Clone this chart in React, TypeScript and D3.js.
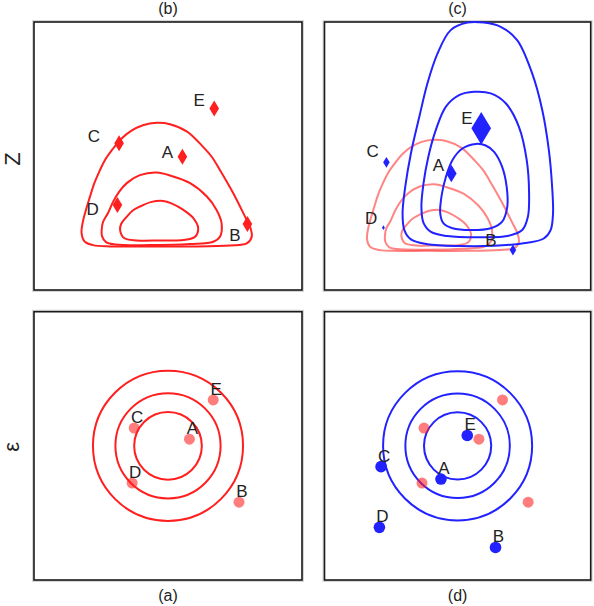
import React from 'react';
import * as d3 from 'd3';

// ---------- data ----------
const LETTERS = ['A', 'B', 'C', 'D', 'E'];

// base space (epsilon): contour radii and points
const EPS_RADII = [1.01, 1.57, 2.24];
const EPS_X = [0.64, 2.12, -1.01, -1.07, 1.35];
const EPS_Y = [0.2, -1.68, 0.53, -1.11, 1.37];
// moved base-space points shown in (d)
const EPS2_X = [-0.5, 1.14, -2.3, -2.35, 0.29];
const EPS2_Y = [-0.99, -3.03, -0.62, -2.43, 0.31];

// latent space (Z): red contours of (b)
const Z_INNER: [number, number][] = [
  [-0.15, -1.34], [0.12, -1.42], [0.46, -1.61], [0.75, -1.85], [0.9, -2.15], [0.81, -2.41],
  [0.46, -2.51], [-0.24, -2.52], [-0.93, -2.52], [-1.31, -2.45], [-1.43, -2.21], [-1.4, -2.03],
  [-1.23, -1.81], [-1.07, -1.64], [-0.84, -1.51], [-0.49, -1.37],
];
const Z_MIDDLE: [number, number][] = [
  [-0.33, -0.49], [0.06, -0.58], [0.66, -0.81], [1.16, -1.21], [1.45, -1.61], [1.6, -2.01],
  [1.55, -2.41], [1.35, -2.56], [0.66, -2.63], [-0.54, -2.66], [-1.58, -2.64], [-1.85, -2.57],
  [-1.97, -2.39], [-1.98, -2.21], [-1.94, -1.97], [-1.79, -1.7], [-1.64, -1.37], [-1.46, -1.07],
  [-1.23, -0.81], [-0.84, -0.57],
];
const Z_OUTER: [number, number][] = [
  [-0.33, 0.99], [0.06, 0.95], [0.57, 0.73], [1.04, 0.28], [1.31, -0.03], [1.55, -0.42],
  [1.94, -1.1], [2.3, -1.81], [2.45, -2.11], [2.5, -2.41], [2.35, -2.61], [1.85, -2.67],
  [0.75, -2.7], [-0.54, -2.7], [-1.73, -2.7], [-2.24, -2.66], [-2.48, -2.56], [-2.58, -2.3],
  [-2.53, -1.91], [-2.45, -1.61], [-2.33, -1.22], [-2.21, -0.84], [-2.03, -0.42], [-1.88, -0.12],
  [-1.67, 0.18], [-1.4, 0.51], [-1.1, 0.75], [-0.75, 0.92],
];
const Z_X = [0.43, 2.37, -1.46, -1.51, 1.38];
const Z_Y = [-0.02, -2.03, 0.38, -1.46, 1.42];
const Z_LABEL_X = [-0.02, 2.0, -2.21, -2.25, 0.93];
const Z_LABEL_Y = [0.1, -2.36, 0.58, -1.61, 1.67];

// latent space (Z): blue contours of (c)
const Z2_INNER: [number, number][] = [
  [1.06, 0.85], [0.61, 0.7], [0.28, 0.32], [0.06, -0.24], [-0.09, -0.9], [-0.13, -1.46],
  [-0.02, -1.79], [0.28, -1.95], [0.89, -2.01], [1.56, -1.95], [1.94, -1.73], [2.11, -1.24],
  [2.09, -0.57], [1.94, 0.09], [1.67, 0.59], [1.39, 0.8],
];
const Z2_MIDDLE: [number, number][] = [
  [1.0, 2.58], [0.5, 2.47], [0.06, 2.09], [-0.28, 1.31], [-0.53, 0.42], [-0.69, -0.46],
  [-0.76, -1.24], [-0.69, -1.77], [-0.44, -2.07], [0.11, -2.21], [1.22, -2.25], [2.11, -2.21],
  [2.61, -2.01], [2.8, -1.57], [2.84, -0.79], [2.76, 0.32], [2.5, 1.42], [2.06, 2.2], [1.56, 2.53],
];
const Z2_OUTER: [number, number][] = [
  [0.78, 4.88], [0.22, 4.63], [-0.22, 3.86], [-0.56, 2.86], [-0.83, 1.75], [-1.11, 0.54],
  [-1.3, -0.57], [-1.39, -1.46], [-1.33, -2.01], [-1.11, -2.32], [-0.56, -2.48], [0.56, -2.54],
  [1.67, -2.53], [2.78, -2.43], [3.33, -2.29], [3.56, -2.01], [3.64, -1.46], [3.61, -0.57],
  [3.5, 0.65], [3.28, 1.98], [2.94, 3.2], [2.44, 4.3], [1.89, 4.74], [1.33, 4.88],
];
const Z2_X = [0.24, 2.3, -1.93, -2.03, 1.24];
const Z2_Y = [-0.13, -2.67, 0.24, -1.93, 1.37];
const Z2_WEIGHT = [1.1, 0.68, 0.68, 0.3, 2.05];
const Z_WEIGHT = [1, 1, 1, 1, 1];
const Z2_LABEL_X = [-0.19, 1.56, -2.39, -2.44, 0.76];
const Z2_LABEL_Y = [0.14, -2.34, 0.59, -1.64, 1.7];

const PANEL_TITLES = ['(b)', '(c)', '(a)', '(d)'];
const ROW_LABELS = ['Z', 'ε'];

// ---------- layout / style ----------
const W = 594;
const H = 606;
const COLS = [[34, 302], [324.5, 590.7]];
const ROWS = [[22, 290], [311.7, 580]];
const RED = '#ff1f1f';
const BLUE = '#2222ff';
const FONT = 'Liberation Sans, Arial, Helvetica, sans-serif';
const TEXT = '#222';

type Sc = d3.ScaleLinear<number, number>;

function diamond(h: number) {
  const w = h * 0.3;
  return `M0,${-h / 2}L${w},0L0,${h / 2}L${-w},0Z`;
}

function Frame({ c, r }: { c: number; r: number }) {
  const [x0, x1] = COLS[c];
  const [y0, y1] = ROWS[r];
  return (
    <g>
      <rect x={x0} y={y0} width={x1 - x0} height={y1 - y0} fill="none" stroke="#d6d6d6" strokeWidth={4} />
      <rect x={x0} y={y0} width={x1 - x0} height={y1 - y0} fill="white" stroke="#1a1a1a" strokeWidth={1.6} />
    </g>
  );
}

function makeScales(c: number, r: number, xd: number[], yd: number[]): [Sc, Sc] {
  const x = d3.scaleLinear().domain(xd).range(COLS[c]);
  const y = d3.scaleLinear().domain(yd).range([ROWS[r][1], ROWS[r][0]]);
  return [x, y];
}

function contourPath(pts: [number, number][], x: Sc, y: Sc) {
  return d3
    .line<[number, number]>()
    .x((d) => x(d[0]))
    .y((d) => y(d[1]))
    .curve(d3.curveCatmullRomClosed.alpha(0.5))(pts) as string;
}

const markerScale = d3.scaleLinear().domain([0, 1]).range([0, 16]);

function Letters({ xs, ys, x, y, dx = 0, dy = 0 }: { xs: number[]; ys: number[]; x: Sc; y: Sc; dx?: number; dy?: number }) {
  return (
    <g fontFamily={FONT} fontSize={17} fill={TEXT} textAnchor="middle" dominantBaseline="central">
      {LETTERS.map((l, i) => (
        <text key={l} x={x(xs[i]) + dx} y={y(ys[i]) + dy}>
          {l}
        </text>
      ))}
    </g>
  );
}

export default function App() {
  const [bx, by] = makeScales(0, 0, [-4, 4], [-4, 4]);
  const [cx, cy] = makeScales(1, 0, [-4, 4.9], [-4, 4.9]);
  const [ax, ay] = makeScales(0, 1, [-4, 4], [-4, 4]);
  const [dx, dy] = makeScales(1, 1, [-4, 4], [-4, 4]);

  const redContours = [Z_INNER, Z_MIDDLE, Z_OUTER];
  const blueContours = [Z2_INNER, Z2_MIDDLE, Z2_OUTER];

  return (
    <svg width={W} height={H} style={{ position: 'absolute', left: 0, top: 0, background: 'white' }}>
      <rect width={W} height={H} fill="white" />
      {/* titles */}
      <g fontFamily={FONT} fontSize={16} fill={TEXT} textAnchor="middle">
        <text x={(COLS[0][0] + COLS[0][1]) / 2} y={14}>{PANEL_TITLES[0]}</text>
        <text x={(COLS[1][0] + COLS[1][1]) / 2} y={14}>{PANEL_TITLES[1]}</text>
        <text x={(COLS[0][0] + COLS[0][1]) / 2} y={601}>{PANEL_TITLES[2]}</text>
        <text x={(COLS[1][0] + COLS[1][1]) / 2} y={601}>{PANEL_TITLES[3]}</text>
      </g>
      <g fontFamily={FONT} fontSize={22} fill={TEXT} textAnchor="middle" dominantBaseline="central">
        <text transform={`translate(12,${(ROWS[0][0] + ROWS[0][1]) / 2 + 3}) rotate(-90)`}>{ROW_LABELS[0]}</text>
        <text transform={`translate(11,${(ROWS[1][0] + ROWS[1][1]) / 2 + 1}) rotate(-90)`}>{ROW_LABELS[1]}</text>
      </g>

      {/* (b) */}
      <Frame c={0} r={0} />
      <g fill="none" stroke={RED} strokeWidth={2}>
        {redContours.map((p, i) => (
          <path key={i} d={contourPath(p, bx, by)} />
        ))}
      </g>
      <g fill={RED}>
        {LETTERS.map((l, i) => (
          <path key={l} transform={`translate(${bx(Z_X[i])},${by(Z_Y[i])})`} d={diamond(markerScale(Z_WEIGHT[i]))} />
        ))}
      </g>
      <Letters xs={Z_LABEL_X} ys={Z_LABEL_Y} x={bx} y={by} />

      {/* (c) */}
      <Frame c={1} r={0} />
      <g fill="none" stroke={RED} strokeOpacity={0.55} strokeWidth={2}>
        {redContours.map((p, i) => (
          <path key={i} d={contourPath(p, cx, cy)} />
        ))}
      </g>
      <g fill="none" stroke={BLUE} strokeWidth={2}>
        {blueContours.map((p, i) => (
          <path key={i} d={contourPath(p, cx, cy)} />
        ))}
      </g>
      <g fill={BLUE}>
        {LETTERS.map((l, i) => (
          <path key={l} transform={`translate(${cx(Z2_X[i])},${cy(Z2_Y[i])})`} d={diamond(markerScale(Z2_WEIGHT[i]))} />
        ))}
      </g>
      <Letters xs={Z2_LABEL_X} ys={Z2_LABEL_Y} x={cx} y={cy} />

      {/* (a) */}
      <Frame c={0} r={1} />
      <g fill="none" stroke={RED} strokeWidth={2}>
        {EPS_RADII.map((r, i) => (
          <circle key={i} cx={ax(0)} cy={ay(0)} r={ax(r) - ax(0)} />
        ))}
      </g>
      <g fill={RED} fillOpacity={0.58}>
        {LETTERS.map((l, i) => (
          <circle key={l} cx={ax(EPS_X[i])} cy={ay(EPS_Y[i])} r={5.5} />
        ))}
      </g>
      <Letters xs={EPS_X} ys={EPS_Y} x={ax} y={ay} dx={3} dy={-10.5} />

      {/* (d) */}
      <Frame c={1} r={1} />
      <g fill="none" stroke={BLUE} strokeWidth={2}>
        {EPS_RADII.map((r, i) => (
          <circle key={i} cx={dx(0)} cy={dy(0)} r={dx(r) - dx(0)} />
        ))}
      </g>
      <g fill={RED} fillOpacity={0.58}>
        {LETTERS.map((l, i) => (
          <circle key={l} cx={dx(EPS_X[i])} cy={dy(EPS_Y[i])} r={5.5} />
        ))}
      </g>
      <g fill={BLUE}>
        {LETTERS.map((l, i) => (
          <circle key={l} cx={dx(EPS2_X[i])} cy={dy(EPS2_Y[i])} r={5.8} />
        ))}
      </g>
      <Letters xs={EPS2_X} ys={EPS2_Y} x={dx} y={dy} dx={3} dy={-10.5} />
    </svg>
  );
}
